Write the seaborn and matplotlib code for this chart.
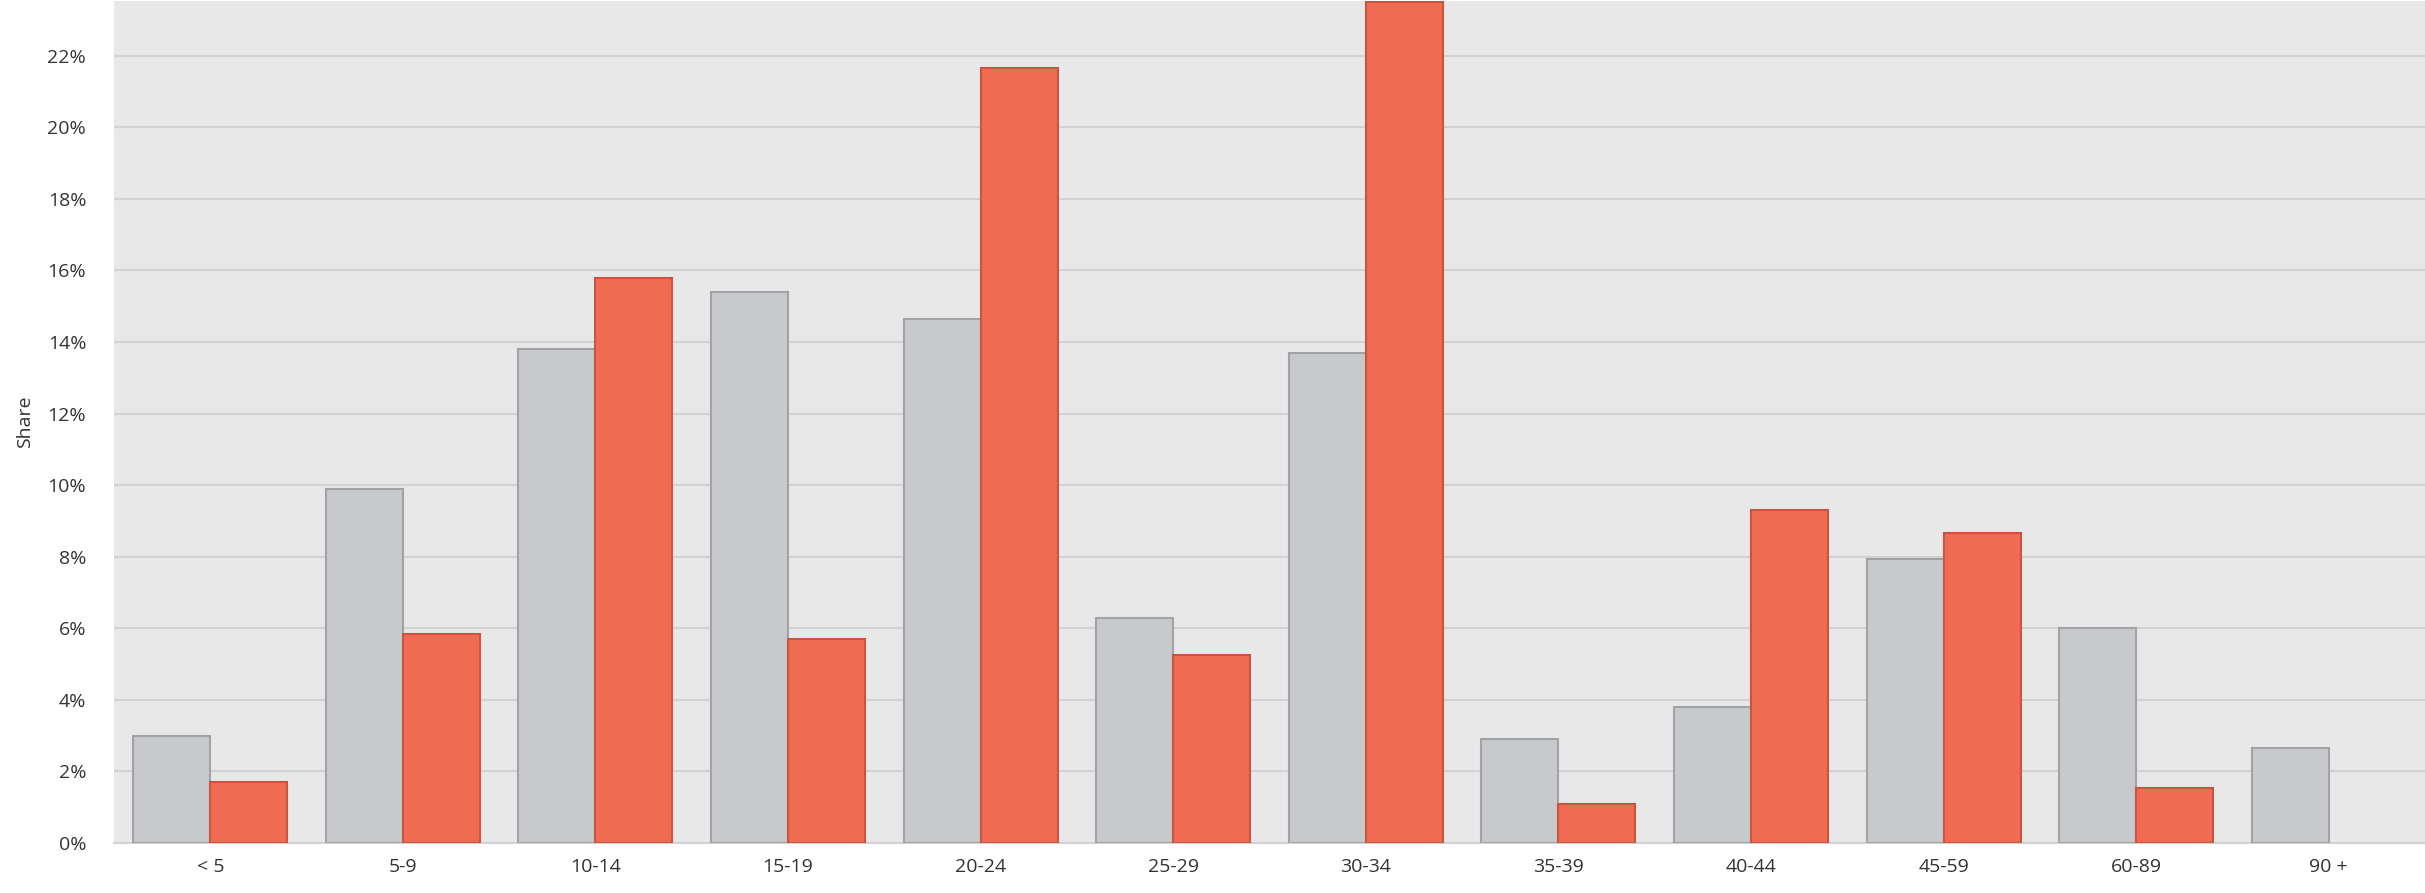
import pandas as pd
import matplotlib
matplotlib.use("Agg")
import matplotlib.pyplot as plt
import seaborn as sns
from matplotlib.ticker import PercentFormatter, MultipleLocator

# datos (porcentajes)
grupos = ["< 5", "5-9", "10-14", "15-19", "20-24", "25-29",
          "30-34", "35-39", "40-44", "45-59", "60-89", "90 +"]
general = [3.0, 9.9, 13.8, 15.4, 14.65, 6.3, 13.7, 2.9, 3.8, 7.95, 6.0, 2.65]
seleccion = [1.7, 5.85, 15.8, 5.7, 21.65, 5.25, 23.5, 1.1, 9.3, 8.65, 1.55, None]
series = ["General", "Selección"]

datos = pd.DataFrame({
    "Edad": grupos * 2,
    "Serie": [series[0]] * len(grupos) + [series[1]] * len(grupos),
    "Share": general + seleccion,
})

sns.set_style("white")
plt.rcParams["font.family"] = ["Open Sans", "DejaVu Sans"]

fig = plt.figure(figsize=(24.25, 8.93), dpi=100)
ax = fig.add_axes([114 / 2425, 50 / 893, 1 - 114 / 2425, 842 / 893])
ax.set_facecolor("#e8e8e8")

sns.barplot(data=datos, x="Edad", y="Share", hue="Serie", hue_order=series,
            order=grupos, palette=["#c8c9cc", "#ef6c53"], width=0.8,
            saturation=1, legend=False, ax=ax, zorder=3)

bordes = {0: "#a2a3a7", 1: "#c8553f"}
for i, cont in enumerate(ax.containers):
    for barra in cont:
        barra.set_edgecolor(bordes[i])
        barra.set_linewidth(1.5)

ax.set_xlim(-0.5, 11.5)
ax.set_ylim(0, 23.53)
ax.yaxis.set_major_locator(MultipleLocator(2))
ax.yaxis.set_major_formatter(PercentFormatter(decimals=0))
ax.grid(axis="y", color="#d2d2d2", linewidth=1.5, zorder=0)
ax.grid(axis="x", visible=False)
ax.set_axisbelow(True)

for lado in ["top", "right", "left"]:
    ax.spines[lado].set_visible(False)
ax.spines["bottom"].set_color("#d2d2d2")
ax.spines["bottom"].set_linewidth(1.5)

ax.tick_params(axis="y", length=14, width=1.5, color="#d2d2d2",
               labelsize=14, labelcolor="#333333", pad=6)
ax.tick_params(axis="x", length=0, labelsize=14, labelcolor="#333333", pad=11)
ax.set_xlabel("")
ax.set_ylabel("Share", fontsize=14, color="#333333", labelpad=10)

fig.savefig("out.png", dpi=100, facecolor="white")
